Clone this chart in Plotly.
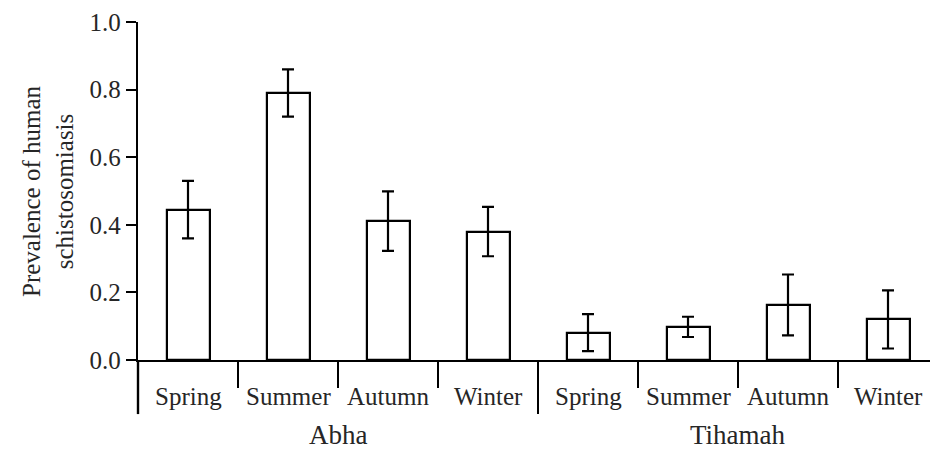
import plotly.graph_objects as go

# ---- data ----
groups = ["Abha", "Tihamah"]
seasons = ["Spring", "Summer", "Autumn", "Winter"]
abha_values = [0.445, 0.790, 0.411, 0.380]
abha_errors = [0.085, 0.070, 0.088, 0.073]
tihamah_values = [0.081, 0.098, 0.163, 0.120]
tihamah_errors = [0.055, 0.030, 0.090, 0.086]
y_ticks = [0.0, 0.2, 0.4, 0.6, 0.8, 1.0]
y_title = "Prevalence of human<br>schistosomiasis"

values = abha_values + tihamah_values
errors = abha_errors + tihamah_errors
labels = seasons * len(groups)
n = len(values)
xpos = [i + 0.5 for i in range(n)]

FONT = "Liberation Serif"
TXT = "#262626"

fig = go.Figure()
fig.add_trace(go.Bar(
    x=xpos, y=values, width=0.43,
    marker=dict(color="white", line=dict(color="black", width=2.2)),
    error_y=dict(type="data", array=errors, visible=True,
                 color="black", thickness=2.2, width=6),
    showlegend=False,
))

shapes = []
# separators / y-axis extension below zero
for i in range(n + 1):
    major = (i % len(seasons) == 0)
    shapes.append(dict(
        type="line", xref="paper", yref="paper",
        x0=i / n, x1=i / n,
        y0=-0.004 if i else 0.0, y1=-0.160 if major else -0.083,
        line=dict(color="black", width=2.4 if i == 0 else 2),
    ))

annotations = []
for i, lab in enumerate(labels):
    annotations.append(dict(
        x=xpos[i], y=-0.109, xref="x", yref="paper", text=lab,
        showarrow=False, xanchor="center", yanchor="middle",
        font=dict(family=FONT, size=25, color=TXT)))
for g, name in enumerate(groups):
    annotations.append(dict(
        x=(g + 0.5) * len(seasons), y=-0.222, xref="x", yref="paper", text=name,
        showarrow=False, xanchor="center", yanchor="middle",
        font=dict(family=FONT, size=27, color=TXT)))
annotations.append(dict(
    x=-0.1125, y=0.5, xref="paper", yref="paper", text=y_title,
    showarrow=False, textangle=-90, xanchor="center", yanchor="middle",
    font=dict(family=FONT, size=25, color=TXT)))

# page body has an 8px default margin; size the figure to fit the window
fig.update_layout(
    width=930, height=443,
    margin=dict(l=130, r=0, t=14, b=91),
    paper_bgcolor="white", plot_bgcolor="white",
    bargap=0,
    xaxis=dict(range=[0, n], showgrid=False, zeroline=False,
               showline=True, linecolor="black", linewidth=2,
               showticklabels=False, ticks=""),
    yaxis=dict(range=[0, 1], tickvals=y_ticks,
               ticktext=[f"{v:.1f}" for v in y_ticks],
               showgrid=False, zeroline=False,
               showline=True, linecolor="black", linewidth=2.4,
               ticks="outside", ticklen=10, tickwidth=2, tickcolor="black",
               tickfont=dict(family=FONT, size=25, color=TXT)),
    shapes=shapes,
    annotations=annotations,
)

fig.write_html("out.html")
